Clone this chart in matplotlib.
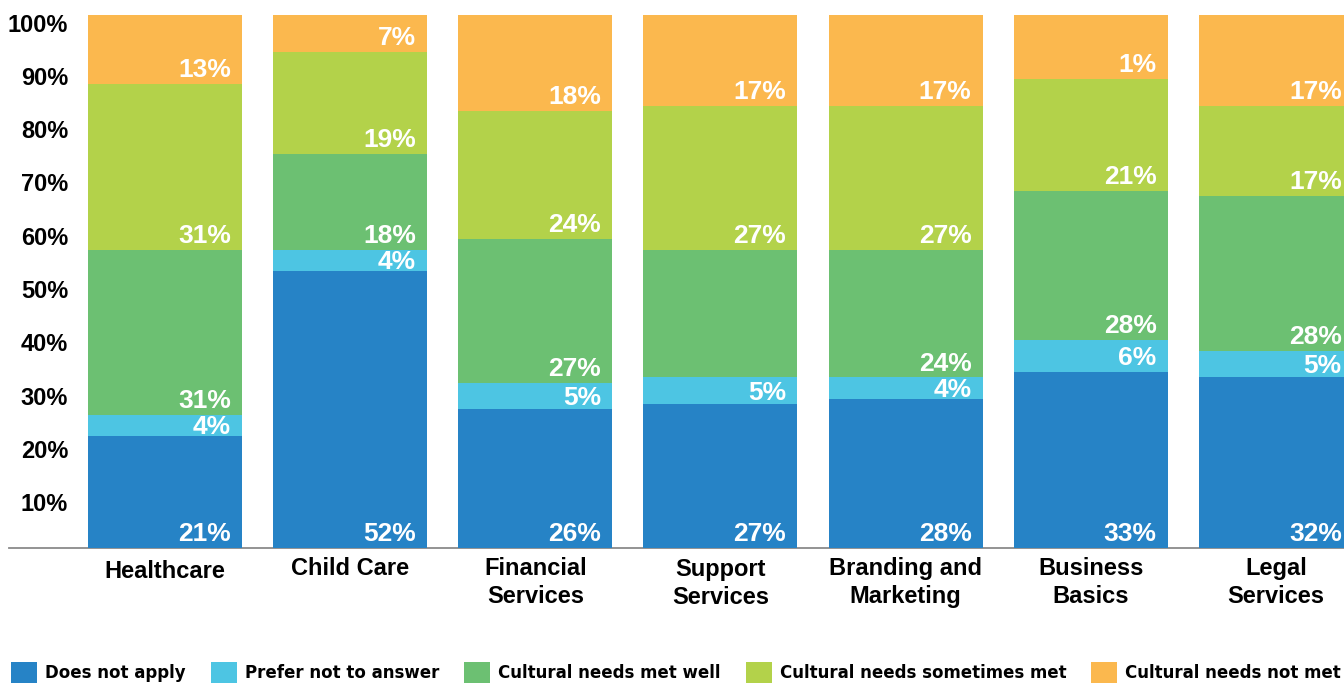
import matplotlib
matplotlib.use("Agg")
import matplotlib.pyplot as plt
import matplotlib.transforms as mtransforms
from matplotlib.patches import Patch
from matplotlib import font_manager

# ---------------- data ----------------
categories = ["Healthcare", "Child Care", "Financial\nServices",
              "Public\nSupport\nServices", "Branding and\nMarketing",
              "Business\nBasics", "Legal\nServices"]
series_names = ["Does not apply", "Prefer not to answer", "Cultural needs met well",
                "Cultural needs sometimes met", "Cultural needs not met"]

does_not_apply = [21, 52, 26, 27, 28, 33, 32]
prefer_not = [4, 4, 5, 5, 4, 6, 5]
met_well = [31, 18, 27, 24, 24, 28, 29]
sometimes_met = [31, 19, 24, 27, 27, 21, 17]
not_met = [13, 7, 18, 17, 17, 12, 17]

dna_labels = ["21%", "52%", "26%", "27%", "28%", "33%", "32%"]
prefer_labels = ["4%", "4%", "5%", "5%", "4%", "6%", "5%"]
well_labels = ["31%", "18%", "27%", "", "24%", "28%", "28%"]
sometimes_labels = ["31%", "19%", "24%", "27%", "27%", "21%", "17%"]
notmet_labels = ["13%", "7%", "18%", "17%", "17%", "1%", "17%"]

y_ticks = [10, 20, 30, 40, 50, 60, 70, 80, 90, 100]
y_ticklabels = ["10%", "20%", "30%", "40%", "50%", "60%", "70%", "80%", "90%", "100%"]

colors = ["#2683C6", "#4DC5E3", "#6CC072", "#B3D24A", "#FBB84E"]

# ---------------- figure ----------------
FONT = "Liberation Sans"
plt.rcParams["font.family"] = [FONT, "DejaVu Sans"]

fig = plt.figure(figsize=(13.44, 6.86), dpi=100)
W, H = 1344, 686

# condensed bold font for the legend
LEG_SIZE = 13.3
cands = [f for f in font_manager.fontManager.ttflist
         if "DejaVuSansCondensed-Bold.ttf" in f.fname]
if not cands:
    cands = [f for f in font_manager.fontManager.ttflist
             if ("Condensed" in f.fname or "Narrow" in f.fname)
             and f.weight in ("bold", 700) and "Mono" not in f.fname]
if cands:
    leg_prop = font_manager.FontProperties(fname=cands[0].fname, size=LEG_SIZE)
else:
    leg_prop = font_manager.FontProperties(family=FONT, weight="bold", size=13)

ax = fig.add_axes([9 / W, 138 / H, 1335 / W, 533 / H])

series = [does_not_apply, prefer_not, met_well, sometimes_met, not_met]
labels = [dna_labels, prefer_labels, well_labels, sometimes_labels, notmet_labels]
x = list(range(len(categories)))
bar_w = 0.832

bottoms = [0] * len(categories)
for vals, labs, col in zip(series, labels, colors):
    ax.bar(x, vals, bar_w, bottom=bottoms, color=col, zorder=2, linewidth=0)
    for i, (v, b, lab) in enumerate(zip(vals, bottoms, labs)):
        if not lab:
            continue
        pad = min(1.3, (v - 3.4) / 2)
        ax.annotate(lab, xy=(i + bar_w / 2, b + pad), xytext=(-8, 0),
                    textcoords="offset points", ha="right", va="baseline",
                    color="white", fontsize=19, fontweight="bold",
                    annotation_clip=False, zorder=3)
    bottoms = [b + v for b, v in zip(bottoms, vals)]

ax.set_xlim(-0.843, 6.368)
ax.set_ylim(0, 100)
ax.set_xticks([])
ax.set_yticks([])
for s in ["left", "right", "top"]:
    ax.spines[s].set_visible(False)
ax.spines["bottom"].set_color("#8a8a8a")
ax.spines["bottom"].set_linewidth(1.3)
ax.spines["bottom"].set_zorder(1.5)

# y tick labels (drawn inside the axes area, as in the reference)
ytrans = ax.get_yaxis_transform() + mtransforms.ScaledTranslation(
    59 / 100, -10 / 100, fig.dpi_scale_trans)
for v, lab in zip(y_ticks, y_ticklabels):
    ax.text(0, v, lab, transform=ytrans, ha="right", va="center",
            fontsize=17, fontweight="bold", color="black", zorder=1)

# x category labels (behind bars so the overflowing first line is hidden)
for i, cat in enumerate(categories):
    nlines = cat.count("\n") + 1
    shift = 27 if nlines == 3 else 0
    extra = -3 if nlines == 1 and i == 0 else 0
    xtrans = ax.get_xaxis_transform() + mtransforms.ScaledTranslation(
        0, (-9 + shift + extra) / 100, fig.dpi_scale_trans)
    ax.text(i, 0, cat, transform=xtrans, ha="center", va="top",
            fontsize=17, fontweight="bold", color="black",
            linespacing=1.27, zorder=1, clip_on=False)

# legend
handles = [Patch(facecolor=c, edgecolor="none") for c in colors]
fs = leg_prop.get_size_in_points()
em = fs * 100 / 72
leg = fig.legend(handles, series_names, loc="lower left",
                 bbox_to_anchor=(11 / W, 3 / H), ncol=5, frameon=False,
                 prop=leg_prop,
                 handlelength=26 / em, handleheight=26 / em, handletextpad=8 / em,
                 columnspacing=25 / em, borderpad=0, borderaxespad=0)

fig.savefig("out.png", dpi=100)
